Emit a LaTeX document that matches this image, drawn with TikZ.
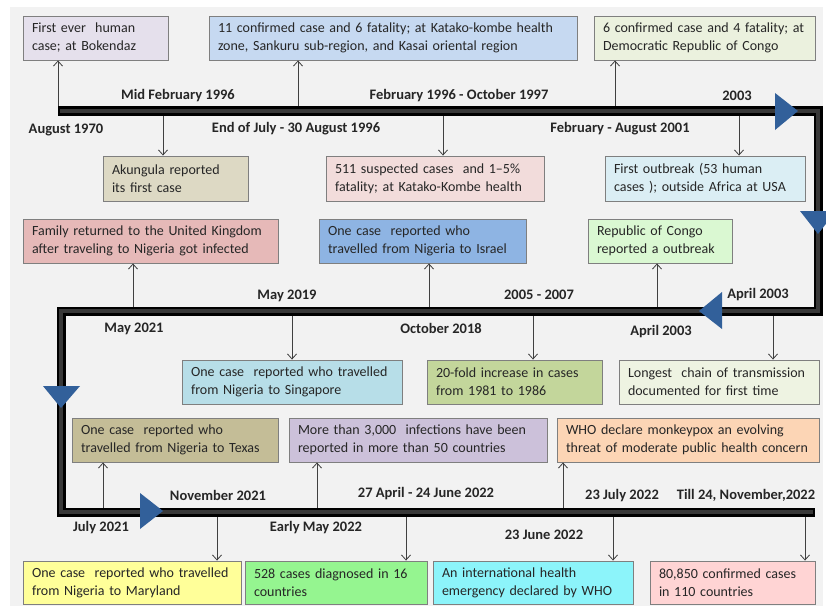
\documentclass[tikz,border=0pt]{standalone}
\usepackage{fontspec}
\setmainfont{Carlito}
\usetikzlibrary{arrows.meta}
\definecolor{bgc}{HTML}{F2F2F2}
\definecolor{tri}{HTML}{32609A}
\definecolor{barin}{HTML}{383838}
\definecolor{arrc}{HTML}{404040}
\definecolor{bord}{HTML}{7F7F7F}
\definecolor{txt}{HTML}{262626}
\definecolor{ca}{HTML}{E5E0EC}
\definecolor{cb}{HTML}{C6D9F1}
\definecolor{cc}{HTML}{EBF1DE}
\definecolor{cd}{HTML}{DDD9C4}
\definecolor{ce}{HTML}{F2DCDB}
\definecolor{cf}{HTML}{DBEEF4}
\definecolor{cg}{HTML}{E6B9B8}
\definecolor{ch}{HTML}{8EB4E3}
\definecolor{ci}{HTML}{DAF8D2}
\definecolor{cj}{HTML}{B7DEE8}
\definecolor{ck}{HTML}{C3D69B}
\definecolor{cl}{HTML}{EEF3E2}
\definecolor{cm}{HTML}{C4BD97}
\definecolor{cn}{HTML}{CCC1DA}
\definecolor{co}{HTML}{FCD5B5}
\definecolor{cp}{HTML}{FFFF99}
\definecolor{cq}{HTML}{95F590}
\definecolor{cr}{HTML}{8CF4FA}
\definecolor{cs}{HTML}{FFD4D4}
\newcommand{\tlbox}[7]{%
 \pgfmathsetmacro\bw{#4-#2}\pgfmathsetmacro\bh{#5-#3}\pgfmathsetmacro\tw{#4-#2-18}%
 \node[tlb, fill=#6, minimum width=\bw pt, minimum height=\bh pt, text width=\tw pt] (#1) at ({(#2+#4)/2},{(#3+#5)/2}) {#7};}
\begin{document}
\begin{tikzpicture}[x=1pt,y=-1pt,
  tlb/.style={draw=bord, line width=0.9pt, inner xsep=9pt, inner ysep=0pt, align=left,
    font=\fontsize{14}{18}\selectfont, text=txt},
  datel/.style={font=\fontsize{14.5}{16}\selectfont\bfseries, text=txt, inner sep=0pt},
  arr/.style={draw=arrc, line width=0.8pt, -{Straight Barb[length=5pt,width=9pt]}},
  trishape/.style={fill=tri, draw=none},
  barout/.style={line width=9pt, draw=black, line join=miter},
  barinn/.style={line width=4pt, draw=barin, line join=miter}]
\useasboundingbox (0,0) rectangle (826,607);
\fill[bgc] (10,7) rectangle (823,606);

% boxes row 1
\tlbox{b1}{23}{16}{168}{60}{ca}{First ever~ human\\case; at Bokendaz}
\tlbox{b2}{209}{16}{577}{60}{cb}{11 confirmed case and 6 fatality; at Katako-kombe health\\zone, Sankuru sub-region, and Kasai oriental region}
\tlbox{b3}{594}{16}{815}{60}{cc}{6 confirmed case and 4 fatality; at\\Democratic Republic of Congo}
% row 2
\tlbox{b4}{103}{156}{248}{201}{cd}{Akungula reported\\its first case}
\tlbox{b5}{326}{156}{544}{201}{ce}{511 suspected cases~ and 1–5\%\\fatality; at Katako-Kombe health}
\tlbox{b6}{605}{156}{805}{201}{cf}{First outbreak (53 human\\cases ); outside Africa at USA}
% row 3
\tlbox{b7}{23}{219}{278}{263}{cg}{Family returned to the United Kingdom\\after traveling to Nigeria got infected}
\tlbox{b8}{319}{219}{526}{263}{ch}{One case~ reported who\\travelled from Nigeria to Israel}
\tlbox{b9}{588}{219}{732}{263}{ci}{Republic of Congo\\reported a outbreak}
% row 4
\tlbox{b10}{182}{360}{402}{404}{cj}{One case~ reported who travelled\\from Nigeria to Singapore}
\tlbox{b11}{427}{360}{602}{404}{ck}{20-fold increase in cases\\from 1981 to 1986}
\tlbox{b12}{619}{360}{819}{404}{cl}{Longest~ chain of transmission\\documented for first time}
% row 5
\tlbox{b13}{72}{418}{278}{462}{cm}{One case~ reported who\\travelled from Nigeria to Texas}
\tlbox{b14}{289}{418}{547}{462}{cn}{More than 3,000~ infections have been\\reported in more than 50 countries}
\tlbox{b15}{557}{418}{819}{462}{co}{WHO declare monkeypox an evolving\\threat of moderate public health concern}
% row 6
\tlbox{b16}{23}{561}{241}{604}{cp}{One case~ reported who travelled\\from Nigeria to Maryland}
\tlbox{b17}{245}{561}{427}{604}{cq}{528 cases diagnosed in 16\\countries}
\tlbox{b18}{433}{561}{633}{604}{cr}{An international health\\emergency declared by WHO}
\tlbox{b19}{650}{561}{815}{604}{cs}{80,850 confirmed cases\\in 110 countries}

% bar coordinates
\coordinate (p0) at (58,111);
\coordinate (p1) at (818,111);
\coordinate (p2) at (818,311);
\coordinate (p3) at (61,311);
\coordinate (p4) at (61,512);
\coordinate (p5) at (815,512);

% anchor points on bars
\coordinate (a1) at (58,111);  \coordinate (a2) at (298,111); \coordinate (a3) at (615,111);
\coordinate (d1) at (163,111); \coordinate (d2) at (443,111); \coordinate (d3) at (739,111);
\coordinate (a4) at (133,311); \coordinate (a5) at (429,311); \coordinate (a6) at (657,311);
\coordinate (d4) at (292,311); \coordinate (d5) at (533,311); \coordinate (d6) at (773,311);
\coordinate (a7) at (103,512); \coordinate (a8) at (317,512); \coordinate (a9) at (563,512);
\coordinate (d7) at (217,512); \coordinate (d8) at (406,512); \coordinate (d9) at (613,512); \coordinate (d10) at (805,512);

% arrows
\draw[arr] (a1) -- (a1 |- b1.south);
\draw[arr] (a2) -- (a2 |- b2.south);
\draw[arr] (a3) -- (a3 |- b3.south);
\draw[arr] (d1) -- (d1 |- b4.north);
\draw[arr] (d2) -- (d2 |- b5.north);
\draw[arr] (d3) -- (d3 |- b6.north);
\draw[arr] (a4) -- (a4 |- b7.south);
\draw[arr] (a5) -- (a5 |- b8.south);
\draw[arr] (a6) -- (a6 |- b9.south);
\draw[arr] (d4) -- (d4 |- b10.north);
\draw[arr] (d5) -- (d5 |- b11.north);
\draw[arr] (d6) -- (d6 |- b12.north);
\draw[arr] (a7) -- (a7 |- b13.south);
\draw[arr] (a8) -- (a8 |- b14.south);
\draw[arr] (a9) -- (a9 |- b15.south);
\draw[arr] (d7) -- (d7 |- b16.north);
\draw[arr] (d8) -- (d8 |- b17.north);
\draw[arr] (d9) -- (d9 |- b18.north);
\draw[arr] (d10) -- (d10 |- b19.north);

% bar
\draw[barout] (p0) -- (p1) -- (p2) -- (p3) -- (p4) -- (p5);
\draw[barinn] (p0) ++(2,0) -- (p1) -- (p2) -- (p3) -- (p4) -- ++(752,0);

% triangles
\fill[trishape] (775,93) -- (798,111) -- (775,130) -- cycle;
\fill[trishape] (800,211) -- (836,211) -- (818,234) -- cycle;
\fill[trishape] (722,292) -- (699,311) -- (722,329) -- cycle;
\fill[trishape] (43,386) -- (80,386) -- (61,408) -- cycle;
\fill[trishape] (140,493) -- (163,511) -- (140,529) -- cycle;

% date labels
\node[datel] (t1) at (178,96) {Mid February 1996};
\node[datel] (t2) at (459,96) {February 1996 - October 1997};
\node[datel] (t3) at (737,96) {2003};
\node[datel] (t4) at (66,130) {August 1970};
\node[datel] (t5) at (296,129) {End of July - 30 August 1996};
\node[datel] (t6) at (620,129) {February - August 2001};
\node[datel] (t7) at (287,296) {May 2019};
\node[datel] (t8) at (539,295) {2005 - 2007};
\node[datel] (t9) at (758,295) {April 2003};
\node[datel] (t10) at (134,329) {May 2021};
\node[datel] (t11) at (441,328) {October 2018};
\node[datel] (t12) at (661,332) {April 2003};
\node[datel] (t13) at (218,495) {November 2021};
\node[datel] (t14) at (426,494) {27 April - 24 June 2022};
\node[datel] (t15) at (622,496) {23 July 2022};
\node[datel] (t16) at (746,495) {Till 24, November,2022};
\node[datel] (t17) at (101,528) {July 2021};
\node[datel] (t18) at (316,528) {Early May 2022};
\node[datel] (t19) at (544,535) {23 June 2022};
\end{tikzpicture}
\end{document}
